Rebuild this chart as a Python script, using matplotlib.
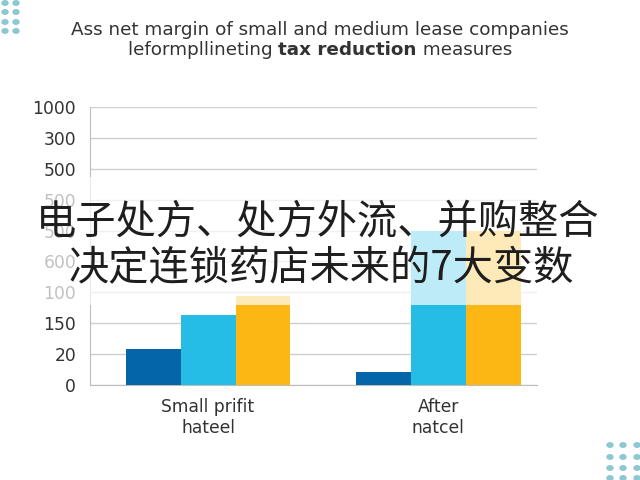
import matplotlib.pyplot as plt
from matplotlib.patches import Rectangle

# data
groups = ['Small prifit\nhateel', 'After\nnatcel']
tick_labels = ['0', '20', '150', '100', '600', '500', '500', '500', '300', '1000']
dark_vals = [1.17, 0.42]
light_vals = [2.27, 4.98]
orange_vals = [2.88, 5.0]

title_1 = 'Ass net margin of small and medium lease companies'
title_2a = 'leformpllineting '
title_2b = 'tax reduction'
title_2c = ' measures'
overlay_1 = '电子处方、处方外流、并购整合'
overlay_2 = '决定连锁药店未来的7大变数'

plt.rcParams['font.family'] = ['DejaVu Sans']

fig = plt.figure(figsize=(6.4, 4.8), dpi=100)
ax = fig.add_axes([90 / 640, 1 - 385 / 480, 447 / 640, 278 / 480])

x = [0, 1]
w = 0.239
ax.bar([i - w for i in x], dark_vals, w, color='#0465a8', zorder=3)
ax.bar(x, light_vals, w, color='#25bde6', zorder=3)
ax.bar([i + w for i in x], orange_vals, w, color='#fdb714', zorder=3)

ax.set_xlim(-0.513, 1.43)
ax.set_ylim(0, 9)
ax.set_yticks(range(len(tick_labels)))
ax.set_yticklabels(tick_labels, fontsize=12.3, color='#333333')
ax.set_xticks(x)
ax.set_xticklabels(groups, fontsize=12.3, color='#333333', linespacing=1.25)
ax.tick_params(length=0, pad=10)
ax.tick_params(axis='x', pad=9)
ax.grid(axis='y', color='#cfcfcf', linewidth=1, zorder=0)
for s in ['top', 'right']:
    ax.spines[s].set_visible(False)
for s in ['left', 'bottom']:
    ax.spines[s].set_color('#bdbdbd')

# title, second line with bold middle part
fig.text(0.5, 1 - 30 / 480, title_1, ha='center', va='center', fontsize=13.2, color='#333333')
r = fig.canvas.get_renderer()
parts = [(title_2a, 'normal'), (title_2b, 'bold'), (title_2c, 'normal')]
objs = [fig.text(0, 1 - 50 / 480, t, ha='left', va='center', fontsize=13.2,
                 color='#333333', fontweight=fw) for t, fw in parts]
widths = [o.get_window_extent(r).width for o in objs]
xpos = (640 - sum(widths)) / 2
for o, wd in zip(objs, widths):
    o.set_x(xpos / 640)
    xpos += wd

# decorative dots
for dx in [5, 16]:
    for dy in [3, 12, 22, 31]:
        fig.patches.append(plt.Circle((dx / 640, 1 - dy / 480), 3 / 640, transform=fig.transFigure,
                                      color='#8cc8d2', zorder=5))
for dx in [610, 623, 637]:
    for dy in [445, 457, 468, 478]:
        fig.patches.append(plt.Circle((dx / 640, 1 - dy / 480), 3 / 640, transform=fig.transFigure,
                                      color='#8cc8d2', zorder=5))

# semi-transparent band behind overlay text
fig.patches.append(Rectangle((0, 1 - 305 / 480), 1, 128 / 480, transform=fig.transFigure,
                             facecolor='white', alpha=0.7, edgecolor='none', zorder=10))
cjk = ['Noto Sans CJK SC', 'DejaVu Sans']
fig.text(318 / 640, 1 - 222 / 480, overlay_1, ha='center', va='center', fontsize=29,
         color='#1e1e1e', family=cjk, zorder=11)
fig.text(321 / 640, 1 - 269 / 480, overlay_2, ha='center', va='center', fontsize=29,
         color='#1e1e1e', family=cjk, zorder=11)

fig.savefig('out.png', dpi=100, facecolor='white')
